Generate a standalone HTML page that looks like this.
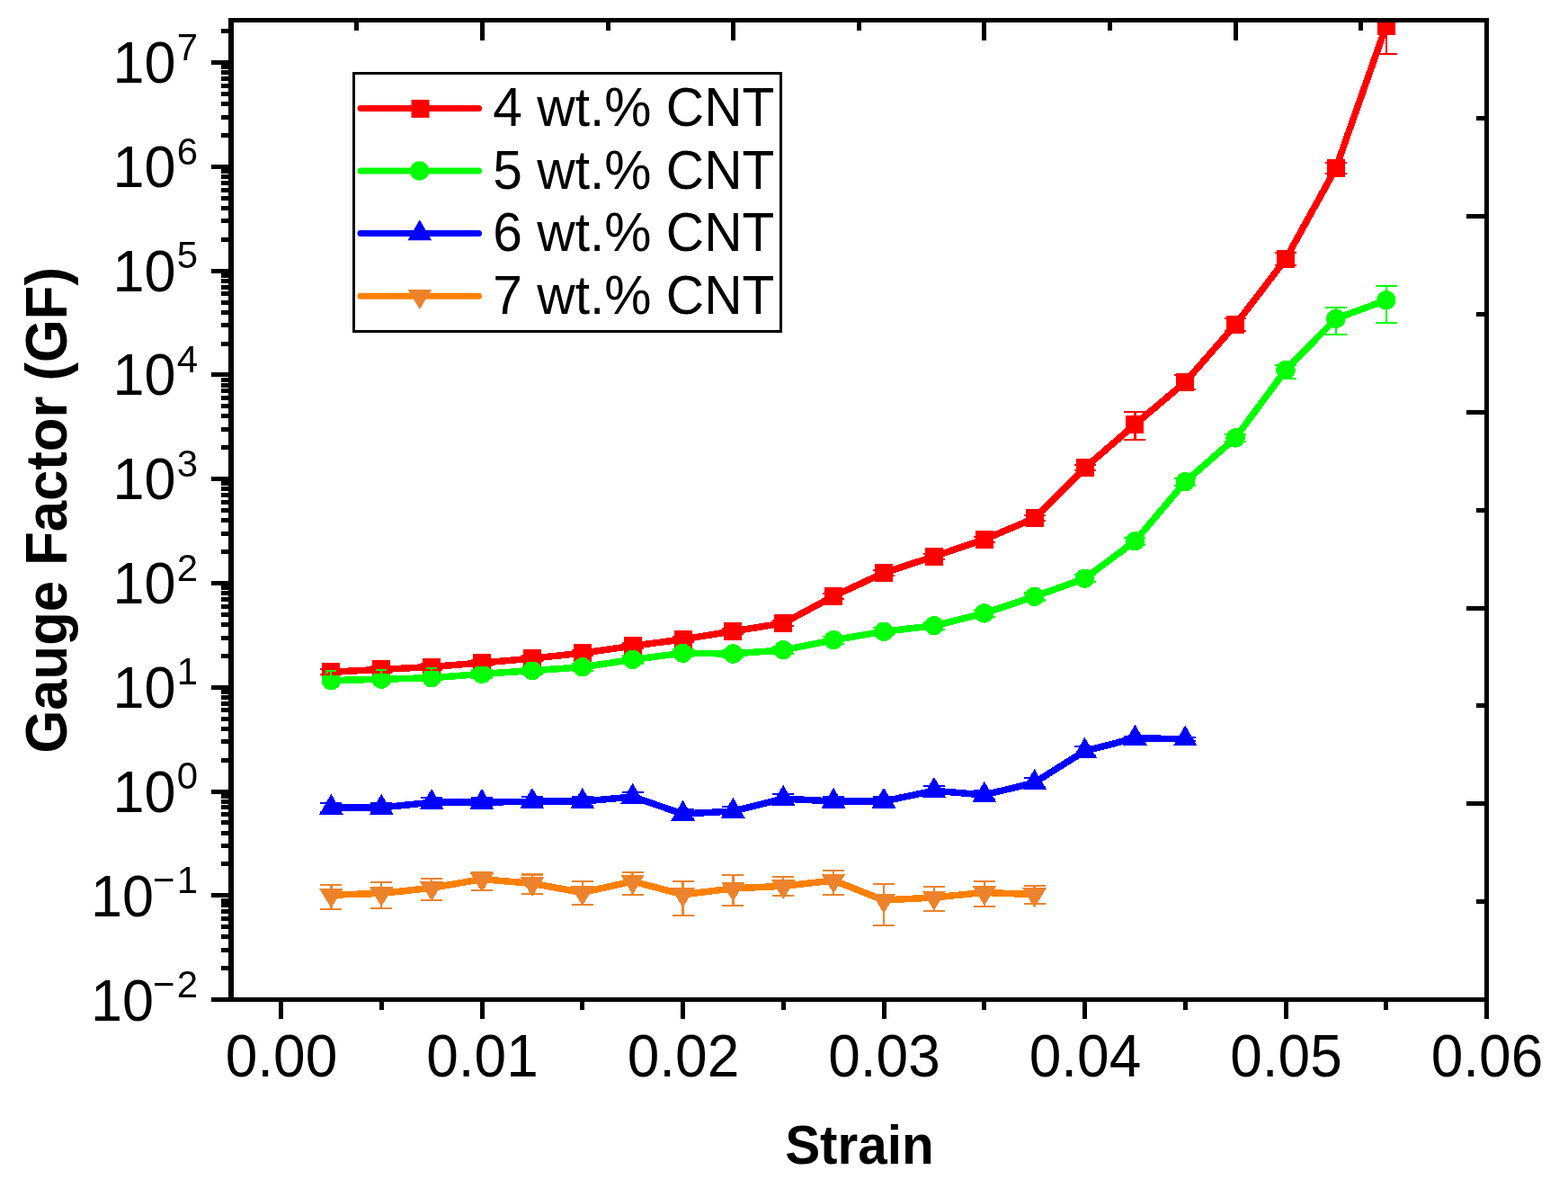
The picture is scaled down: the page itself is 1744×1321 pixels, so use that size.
<!DOCTYPE html><html><head><meta charset="utf-8"><title>Gauge Factor vs Strain</title>
<style>html,body{margin:0;padding:0;background:#fff;}svg{display:block;}text{font-family:"Liberation Sans",Arial,sans-serif;}</style></head><body>
<svg width="1744" height="1321" viewBox="0 0 1744 1321">
<rect width="1744" height="1321" fill="#fff"/>
<defs><clipPath id="pc"><rect x="254" y="20" width="1402" height="1094"/></clipPath></defs>
<g clip-path="url(#pc)" shape-rendering="crispEdges">
<rect x="358.4" y="737.2" width="20" height="20" fill="#ff0000"/>
<rect x="414.2" y="734.4" width="20" height="20" fill="#ff0000"/>
<rect x="470.1" y="731.5" width="20" height="20" fill="#ff0000"/>
<rect x="526.0" y="727.0" width="20" height="20" fill="#ff0000"/>
<rect x="581.9" y="722.2" width="20" height="20" fill="#ff0000"/>
<rect x="637.8" y="716.1" width="20" height="20" fill="#ff0000"/>
<rect x="693.6" y="708.2" width="20" height="20" fill="#ff0000"/>
<rect x="749.5" y="700.9" width="20" height="20" fill="#ff0000"/>
<rect x="805.4" y="691.9" width="20" height="20" fill="#ff0000"/>
<rect x="861.2" y="683.0" width="20" height="20" fill="#ff0000"/>
<rect x="917.1" y="653.0" width="20" height="20" fill="#ff0000"/>
<rect x="973.0" y="627.0" width="20" height="20" fill="#ff0000"/>
<rect x="1028.9" y="608.8" width="20" height="20" fill="#ff0000"/>
<rect x="1084.8" y="589.8" width="20" height="20" fill="#ff0000"/>
<rect x="1140.6" y="566.3" width="20" height="20" fill="#ff0000"/>
<rect x="1196.5" y="510.3" width="20" height="20" fill="#ff0000"/>
<rect x="1252.4" y="462.0" width="20" height="20" fill="#ff0000"/>
<rect x="1308.2" y="414.9" width="20" height="20" fill="#ff0000"/>
<rect x="1364.1" y="351.1" width="20" height="20" fill="#ff0000"/>
<rect x="1420.0" y="278.1" width="20" height="20" fill="#ff0000"/>
<rect x="1475.9" y="177.0" width="20" height="20" fill="#ff0000"/>
<rect x="1531.8" y="18.5" width="20" height="20" fill="#ff0000"/>
<polyline points="368.4,756.6 424.2,755.3 480.1,753.7 536.0,749.4 591.9,745.7 647.8,741.8 703.6,733.4 759.5,726.3 815.4,727.0 871.2,722.8 927.1,711.7 983.0,702.2 1038.9,695.8 1094.8,681.9 1150.6,663.4 1206.5,643.3 1262.4,601.8 1318.2,535.8 1374.1,486.9 1430.0,411.5 1485.9,354.3 1541.8,333.8" fill="none" stroke="#00ff00" stroke-width="7.5" stroke-linejoin="round" stroke-linecap="round"/>
<circle cx="368.4" cy="756.6" r="10.7" fill="#00ff00"/>
<circle cx="424.2" cy="755.3" r="10.7" fill="#00ff00"/>
<circle cx="480.1" cy="753.7" r="10.7" fill="#00ff00"/>
<circle cx="536.0" cy="749.4" r="10.7" fill="#00ff00"/>
<circle cx="591.9" cy="745.7" r="10.7" fill="#00ff00"/>
<circle cx="647.8" cy="741.8" r="10.7" fill="#00ff00"/>
<circle cx="703.6" cy="733.4" r="10.7" fill="#00ff00"/>
<circle cx="759.5" cy="726.3" r="10.7" fill="#00ff00"/>
<circle cx="815.4" cy="727.0" r="10.7" fill="#00ff00"/>
<circle cx="871.2" cy="722.8" r="10.7" fill="#00ff00"/>
<circle cx="927.1" cy="711.7" r="10.7" fill="#00ff00"/>
<circle cx="983.0" cy="702.2" r="10.7" fill="#00ff00"/>
<circle cx="1038.9" cy="695.8" r="10.7" fill="#00ff00"/>
<circle cx="1094.8" cy="681.9" r="10.7" fill="#00ff00"/>
<circle cx="1150.6" cy="663.4" r="10.7" fill="#00ff00"/>
<circle cx="1206.5" cy="643.3" r="10.7" fill="#00ff00"/>
<circle cx="1262.4" cy="601.8" r="10.7" fill="#00ff00"/>
<circle cx="1318.2" cy="535.8" r="10.7" fill="#00ff00"/>
<circle cx="1374.1" cy="486.9" r="10.7" fill="#00ff00"/>
<circle cx="1430.0" cy="411.5" r="10.7" fill="#00ff00"/>
<circle cx="1485.9" cy="354.3" r="10.7" fill="#00ff00"/>
<circle cx="1541.8" cy="333.8" r="10.7" fill="#00ff00"/>
<polyline points="368.4,747.2 424.2,744.4 480.1,741.5 536.0,737.0 591.9,732.2 647.8,726.1 703.6,718.2 759.5,710.9 815.4,701.9 871.2,693.0 927.1,663.0 983.0,637.0 1038.9,618.8 1094.8,599.8 1150.6,576.3 1206.5,520.3 1262.4,472.0 1318.2,424.9 1374.1,361.1 1430.0,288.1 1485.9,187.0 1541.8,28.5" fill="none" stroke="#ff0000" stroke-width="7.5" stroke-linejoin="round" stroke-linecap="round"/>
<line x1="368.4" y1="744.2" x2="368.4" y2="750.2" stroke="#ff0000" stroke-width="2.5"/><line x1="356.4" y1="744.2" x2="380.4" y2="744.2" stroke="#ff0000" stroke-width="2.2"/><line x1="356.4" y1="750.2" x2="380.4" y2="750.2" stroke="#ff0000" stroke-width="2.2"/>
<line x1="424.2" y1="741.4" x2="424.2" y2="747.4" stroke="#ff0000" stroke-width="2.5"/><line x1="412.2" y1="741.4" x2="436.2" y2="741.4" stroke="#ff0000" stroke-width="2.2"/><line x1="412.2" y1="747.4" x2="436.2" y2="747.4" stroke="#ff0000" stroke-width="2.2"/>
<line x1="480.1" y1="738.5" x2="480.1" y2="744.5" stroke="#ff0000" stroke-width="2.5"/><line x1="468.1" y1="738.5" x2="492.1" y2="738.5" stroke="#ff0000" stroke-width="2.2"/><line x1="468.1" y1="744.5" x2="492.1" y2="744.5" stroke="#ff0000" stroke-width="2.2"/>
<line x1="536.0" y1="734.0" x2="536.0" y2="740.0" stroke="#ff0000" stroke-width="2.5"/><line x1="524.0" y1="734.0" x2="548.0" y2="734.0" stroke="#ff0000" stroke-width="2.2"/><line x1="524.0" y1="740.0" x2="548.0" y2="740.0" stroke="#ff0000" stroke-width="2.2"/>
<line x1="591.9" y1="729.2" x2="591.9" y2="735.2" stroke="#ff0000" stroke-width="2.5"/><line x1="579.9" y1="729.2" x2="603.9" y2="729.2" stroke="#ff0000" stroke-width="2.2"/><line x1="579.9" y1="735.2" x2="603.9" y2="735.2" stroke="#ff0000" stroke-width="2.2"/>
<line x1="647.8" y1="723.1" x2="647.8" y2="729.1" stroke="#ff0000" stroke-width="2.5"/><line x1="635.8" y1="723.1" x2="659.8" y2="723.1" stroke="#ff0000" stroke-width="2.2"/><line x1="635.8" y1="729.1" x2="659.8" y2="729.1" stroke="#ff0000" stroke-width="2.2"/>
<line x1="703.6" y1="715.2" x2="703.6" y2="721.2" stroke="#ff0000" stroke-width="2.5"/><line x1="691.6" y1="715.2" x2="715.6" y2="715.2" stroke="#ff0000" stroke-width="2.2"/><line x1="691.6" y1="721.2" x2="715.6" y2="721.2" stroke="#ff0000" stroke-width="2.2"/>
<line x1="759.5" y1="707.9" x2="759.5" y2="713.9" stroke="#ff0000" stroke-width="2.5"/><line x1="747.5" y1="707.9" x2="771.5" y2="707.9" stroke="#ff0000" stroke-width="2.2"/><line x1="747.5" y1="713.9" x2="771.5" y2="713.9" stroke="#ff0000" stroke-width="2.2"/>
<line x1="815.4" y1="698.9" x2="815.4" y2="704.9" stroke="#ff0000" stroke-width="2.5"/><line x1="803.4" y1="698.9" x2="827.4" y2="698.9" stroke="#ff0000" stroke-width="2.2"/><line x1="803.4" y1="704.9" x2="827.4" y2="704.9" stroke="#ff0000" stroke-width="2.2"/>
<line x1="871.2" y1="690.0" x2="871.2" y2="696.0" stroke="#ff0000" stroke-width="2.5"/><line x1="859.2" y1="690.0" x2="883.2" y2="690.0" stroke="#ff0000" stroke-width="2.2"/><line x1="859.2" y1="696.0" x2="883.2" y2="696.0" stroke="#ff0000" stroke-width="2.2"/>
<line x1="927.1" y1="660.0" x2="927.1" y2="666.0" stroke="#ff0000" stroke-width="2.5"/><line x1="915.1" y1="660.0" x2="939.1" y2="660.0" stroke="#ff0000" stroke-width="2.2"/><line x1="915.1" y1="666.0" x2="939.1" y2="666.0" stroke="#ff0000" stroke-width="2.2"/>
<line x1="983.0" y1="634.0" x2="983.0" y2="640.0" stroke="#ff0000" stroke-width="2.5"/><line x1="971.0" y1="634.0" x2="995.0" y2="634.0" stroke="#ff0000" stroke-width="2.2"/><line x1="971.0" y1="640.0" x2="995.0" y2="640.0" stroke="#ff0000" stroke-width="2.2"/>
<line x1="1038.9" y1="615.8" x2="1038.9" y2="621.8" stroke="#ff0000" stroke-width="2.5"/><line x1="1026.9" y1="615.8" x2="1050.9" y2="615.8" stroke="#ff0000" stroke-width="2.2"/><line x1="1026.9" y1="621.8" x2="1050.9" y2="621.8" stroke="#ff0000" stroke-width="2.2"/>
<line x1="1094.8" y1="596.8" x2="1094.8" y2="602.8" stroke="#ff0000" stroke-width="2.5"/><line x1="1082.8" y1="596.8" x2="1106.8" y2="596.8" stroke="#ff0000" stroke-width="2.2"/><line x1="1082.8" y1="602.8" x2="1106.8" y2="602.8" stroke="#ff0000" stroke-width="2.2"/>
<line x1="1150.6" y1="573.3" x2="1150.6" y2="579.3" stroke="#ff0000" stroke-width="2.5"/><line x1="1138.6" y1="573.3" x2="1162.6" y2="573.3" stroke="#ff0000" stroke-width="2.2"/><line x1="1138.6" y1="579.3" x2="1162.6" y2="579.3" stroke="#ff0000" stroke-width="2.2"/>
<line x1="1206.5" y1="517.3" x2="1206.5" y2="523.3" stroke="#ff0000" stroke-width="2.5"/><line x1="1194.5" y1="517.3" x2="1218.5" y2="517.3" stroke="#ff0000" stroke-width="2.2"/><line x1="1194.5" y1="523.3" x2="1218.5" y2="523.3" stroke="#ff0000" stroke-width="2.2"/>
<line x1="1262.4" y1="458.1" x2="1262.4" y2="488.8" stroke="#ff0000" stroke-width="2.5"/><line x1="1250.4" y1="458.1" x2="1274.4" y2="458.1" stroke="#ff0000" stroke-width="2.2"/><line x1="1250.4" y1="488.8" x2="1274.4" y2="488.8" stroke="#ff0000" stroke-width="2.2"/>
<line x1="1318.2" y1="416.9" x2="1318.2" y2="432.9" stroke="#ff0000" stroke-width="2.5"/><line x1="1306.2" y1="416.9" x2="1330.2" y2="416.9" stroke="#ff0000" stroke-width="2.2"/><line x1="1306.2" y1="432.9" x2="1330.2" y2="432.9" stroke="#ff0000" stroke-width="2.2"/>
<line x1="1374.1" y1="354.1" x2="1374.1" y2="368.1" stroke="#ff0000" stroke-width="2.5"/><line x1="1362.1" y1="354.1" x2="1386.1" y2="354.1" stroke="#ff0000" stroke-width="2.2"/><line x1="1362.1" y1="368.1" x2="1386.1" y2="368.1" stroke="#ff0000" stroke-width="2.2"/>
<line x1="1430.0" y1="281.1" x2="1430.0" y2="295.1" stroke="#ff0000" stroke-width="2.5"/><line x1="1418.0" y1="281.1" x2="1442.0" y2="281.1" stroke="#ff0000" stroke-width="2.2"/><line x1="1418.0" y1="295.1" x2="1442.0" y2="295.1" stroke="#ff0000" stroke-width="2.2"/>
<line x1="1485.9" y1="181.0" x2="1485.9" y2="193.0" stroke="#ff0000" stroke-width="2.5"/><line x1="1473.9" y1="181.0" x2="1497.9" y2="181.0" stroke="#ff0000" stroke-width="2.2"/><line x1="1473.9" y1="193.0" x2="1497.9" y2="193.0" stroke="#ff0000" stroke-width="2.2"/>
<line x1="1541.8" y1="0.0" x2="1541.8" y2="59.7" stroke="#ff0000" stroke-width="2.5"/><line x1="1529.8" y1="0.0" x2="1553.8" y2="0.0" stroke="#ff0000" stroke-width="2.2"/><line x1="1529.8" y1="59.7" x2="1553.8" y2="59.7" stroke="#ff0000" stroke-width="2.2"/>
<line x1="368.4" y1="746.1" x2="368.4" y2="759.6" stroke="#00ff00" stroke-width="2.0"/><line x1="362.4" y1="746.1" x2="374.4" y2="746.1" stroke="#00ff00" stroke-width="1.6"/><line x1="362.4" y1="759.6" x2="374.4" y2="759.6" stroke="#00ff00" stroke-width="1.6"/>
<line x1="424.2" y1="744.8" x2="424.2" y2="758.3" stroke="#00ff00" stroke-width="2.0"/><line x1="418.2" y1="744.8" x2="430.2" y2="744.8" stroke="#00ff00" stroke-width="1.6"/><line x1="418.2" y1="758.3" x2="430.2" y2="758.3" stroke="#00ff00" stroke-width="1.6"/>
<line x1="480.1" y1="743.2" x2="480.1" y2="756.7" stroke="#00ff00" stroke-width="2.0"/><line x1="474.1" y1="743.2" x2="486.1" y2="743.2" stroke="#00ff00" stroke-width="1.6"/><line x1="474.1" y1="756.7" x2="486.1" y2="756.7" stroke="#00ff00" stroke-width="1.6"/>
<polyline points="368.4,898.0 424.2,898.0 480.1,892.2 536.0,892.2 591.9,891.2 647.8,891.2 703.6,886.0 759.5,905.0 815.4,902.0 871.2,888.1 927.1,891.0 983.0,891.0 1038.9,879.2 1094.8,884.0 1150.6,870.2 1206.5,835.1 1262.4,820.8 1318.2,821.7" fill="none" stroke="#0000ff" stroke-width="7.5" stroke-linejoin="round" stroke-linecap="round"/>
<polygon points="368.4,882.7 381.7,905.7 355.1,905.7" fill="#0000ff"/>
<polygon points="424.2,882.7 437.6,905.7 410.9,905.7" fill="#0000ff"/>
<polygon points="480.1,876.9 493.4,899.9 466.8,899.9" fill="#0000ff"/>
<polygon points="536.0,876.9 549.3,899.9 522.7,899.9" fill="#0000ff"/>
<polygon points="591.9,875.9 605.2,898.9 578.6,898.9" fill="#0000ff"/>
<polygon points="647.8,875.9 661.0,898.9 634.5,898.9" fill="#0000ff"/>
<polygon points="703.6,870.7 716.9,893.7 690.3,893.7" fill="#0000ff"/>
<polygon points="759.5,889.7 772.8,912.7 746.2,912.7" fill="#0000ff"/>
<polygon points="815.4,886.7 828.7,909.7 802.1,909.7" fill="#0000ff"/>
<polygon points="871.2,872.8 884.5,895.8 858.0,895.8" fill="#0000ff"/>
<polygon points="927.1,875.7 940.4,898.7 913.8,898.7" fill="#0000ff"/>
<polygon points="983.0,875.7 996.3,898.7 969.7,898.7" fill="#0000ff"/>
<polygon points="1038.9,863.9 1052.2,886.9 1025.6,886.9" fill="#0000ff"/>
<polygon points="1094.8,868.7 1108.0,891.7 1081.5,891.7" fill="#0000ff"/>
<polygon points="1150.6,854.9 1163.9,877.9 1137.3,877.9" fill="#0000ff"/>
<polygon points="1206.5,819.8 1219.8,842.8 1193.2,842.8" fill="#0000ff"/>
<polygon points="1262.4,805.5 1275.7,828.5 1249.1,828.5" fill="#0000ff"/>
<polygon points="1318.2,806.4 1331.5,829.4 1305.0,829.4" fill="#0000ff"/>
<polyline points="368.4,995.2 424.2,993.4 480.1,987.3 536.0,977.6 591.9,982.4 647.8,992.5 703.6,980.0 759.5,994.7 815.4,987.9 871.2,985.3 927.1,979.0 983.0,1001.0 1038.9,998.0 1094.8,992.4 1150.6,994.7" fill="none" stroke="#ff8000" stroke-width="7.5" stroke-linejoin="round" stroke-linecap="round"/>
<polygon points="355.1,987.9 381.7,987.9 368.4,1009.9" fill="#ec832c"/>
<polygon points="410.9,986.1 437.6,986.1 424.2,1008.1" fill="#ec832c"/>
<polygon points="466.8,980.0 493.4,980.0 480.1,1002.0" fill="#ec832c"/>
<polygon points="522.7,970.3 549.3,970.3 536.0,992.3" fill="#ec832c"/>
<polygon points="578.6,975.1 605.2,975.1 591.9,997.1" fill="#ec832c"/>
<polygon points="634.5,985.2 661.0,985.2 647.8,1007.2" fill="#ec832c"/>
<polygon points="690.3,972.7 716.9,972.7 703.6,994.7" fill="#ec832c"/>
<polygon points="746.2,987.4 772.8,987.4 759.5,1009.4" fill="#ec832c"/>
<polygon points="802.1,980.6 828.7,980.6 815.4,1002.6" fill="#ec832c"/>
<polygon points="858.0,978.0 884.5,978.0 871.2,1000.0" fill="#ec832c"/>
<polygon points="913.8,971.7 940.4,971.7 927.1,993.7" fill="#ec832c"/>
<polygon points="969.7,993.7 996.3,993.7 983.0,1015.7" fill="#ec832c"/>
<polygon points="1025.6,990.7 1052.2,990.7 1038.9,1012.7" fill="#ec832c"/>
<polygon points="1081.5,985.1 1108.0,985.1 1094.8,1007.1" fill="#ec832c"/>
<polygon points="1137.3,987.4 1163.9,987.4 1150.6,1009.4" fill="#ec832c"/>
<line x1="536.0" y1="745.4" x2="536.0" y2="753.4" stroke="#00ff00" stroke-width="2.5"/><line x1="524.0" y1="745.4" x2="548.0" y2="745.4" stroke="#00ff00" stroke-width="2.2"/><line x1="524.0" y1="753.4" x2="548.0" y2="753.4" stroke="#00ff00" stroke-width="2.2"/>
<line x1="591.9" y1="741.7" x2="591.9" y2="749.7" stroke="#00ff00" stroke-width="2.5"/><line x1="579.9" y1="741.7" x2="603.9" y2="741.7" stroke="#00ff00" stroke-width="2.2"/><line x1="579.9" y1="749.7" x2="603.9" y2="749.7" stroke="#00ff00" stroke-width="2.2"/>
<line x1="647.8" y1="737.8" x2="647.8" y2="745.8" stroke="#00ff00" stroke-width="2.5"/><line x1="635.8" y1="737.8" x2="659.8" y2="737.8" stroke="#00ff00" stroke-width="2.2"/><line x1="635.8" y1="745.8" x2="659.8" y2="745.8" stroke="#00ff00" stroke-width="2.2"/>
<line x1="703.6" y1="729.4" x2="703.6" y2="737.4" stroke="#00ff00" stroke-width="2.5"/><line x1="691.6" y1="729.4" x2="715.6" y2="729.4" stroke="#00ff00" stroke-width="2.2"/><line x1="691.6" y1="737.4" x2="715.6" y2="737.4" stroke="#00ff00" stroke-width="2.2"/>
<line x1="759.5" y1="722.3" x2="759.5" y2="730.3" stroke="#00ff00" stroke-width="2.5"/><line x1="747.5" y1="722.3" x2="771.5" y2="722.3" stroke="#00ff00" stroke-width="2.2"/><line x1="747.5" y1="730.3" x2="771.5" y2="730.3" stroke="#00ff00" stroke-width="2.2"/>
<line x1="815.4" y1="723.0" x2="815.4" y2="731.0" stroke="#00ff00" stroke-width="2.5"/><line x1="803.4" y1="723.0" x2="827.4" y2="723.0" stroke="#00ff00" stroke-width="2.2"/><line x1="803.4" y1="731.0" x2="827.4" y2="731.0" stroke="#00ff00" stroke-width="2.2"/>
<line x1="871.2" y1="718.8" x2="871.2" y2="726.8" stroke="#00ff00" stroke-width="2.5"/><line x1="859.2" y1="718.8" x2="883.2" y2="718.8" stroke="#00ff00" stroke-width="2.2"/><line x1="859.2" y1="726.8" x2="883.2" y2="726.8" stroke="#00ff00" stroke-width="2.2"/>
<line x1="927.1" y1="707.7" x2="927.1" y2="715.7" stroke="#00ff00" stroke-width="2.5"/><line x1="915.1" y1="707.7" x2="939.1" y2="707.7" stroke="#00ff00" stroke-width="2.2"/><line x1="915.1" y1="715.7" x2="939.1" y2="715.7" stroke="#00ff00" stroke-width="2.2"/>
<line x1="983.0" y1="698.2" x2="983.0" y2="706.2" stroke="#00ff00" stroke-width="2.5"/><line x1="971.0" y1="698.2" x2="995.0" y2="698.2" stroke="#00ff00" stroke-width="2.2"/><line x1="971.0" y1="706.2" x2="995.0" y2="706.2" stroke="#00ff00" stroke-width="2.2"/>
<line x1="1038.9" y1="691.8" x2="1038.9" y2="699.8" stroke="#00ff00" stroke-width="2.5"/><line x1="1026.9" y1="691.8" x2="1050.9" y2="691.8" stroke="#00ff00" stroke-width="2.2"/><line x1="1026.9" y1="699.8" x2="1050.9" y2="699.8" stroke="#00ff00" stroke-width="2.2"/>
<line x1="1094.8" y1="677.9" x2="1094.8" y2="685.9" stroke="#00ff00" stroke-width="2.5"/><line x1="1082.8" y1="677.9" x2="1106.8" y2="677.9" stroke="#00ff00" stroke-width="2.2"/><line x1="1082.8" y1="685.9" x2="1106.8" y2="685.9" stroke="#00ff00" stroke-width="2.2"/>
<line x1="1150.6" y1="659.4" x2="1150.6" y2="667.4" stroke="#00ff00" stroke-width="2.5"/><line x1="1138.6" y1="659.4" x2="1162.6" y2="659.4" stroke="#00ff00" stroke-width="2.2"/><line x1="1138.6" y1="667.4" x2="1162.6" y2="667.4" stroke="#00ff00" stroke-width="2.2"/>
<line x1="1206.5" y1="639.3" x2="1206.5" y2="647.3" stroke="#00ff00" stroke-width="2.5"/><line x1="1194.5" y1="639.3" x2="1218.5" y2="639.3" stroke="#00ff00" stroke-width="2.2"/><line x1="1194.5" y1="647.3" x2="1218.5" y2="647.3" stroke="#00ff00" stroke-width="2.2"/>
<line x1="1262.4" y1="597.8" x2="1262.4" y2="605.8" stroke="#00ff00" stroke-width="2.5"/><line x1="1250.4" y1="597.8" x2="1274.4" y2="597.8" stroke="#00ff00" stroke-width="2.2"/><line x1="1250.4" y1="605.8" x2="1274.4" y2="605.8" stroke="#00ff00" stroke-width="2.2"/>
<line x1="1318.2" y1="531.8" x2="1318.2" y2="539.8" stroke="#00ff00" stroke-width="2.5"/><line x1="1306.2" y1="531.8" x2="1330.2" y2="531.8" stroke="#00ff00" stroke-width="2.2"/><line x1="1306.2" y1="539.8" x2="1330.2" y2="539.8" stroke="#00ff00" stroke-width="2.2"/>
<line x1="1374.1" y1="482.9" x2="1374.1" y2="490.9" stroke="#00ff00" stroke-width="2.5"/><line x1="1362.1" y1="482.9" x2="1386.1" y2="482.9" stroke="#00ff00" stroke-width="2.2"/><line x1="1362.1" y1="490.9" x2="1386.1" y2="490.9" stroke="#00ff00" stroke-width="2.2"/>
<line x1="1430.0" y1="405.8" x2="1430.0" y2="421.0" stroke="#00ff00" stroke-width="2.5"/><line x1="1418.0" y1="405.8" x2="1442.0" y2="405.8" stroke="#00ff00" stroke-width="2.2"/><line x1="1418.0" y1="421.0" x2="1442.0" y2="421.0" stroke="#00ff00" stroke-width="2.2"/>
<line x1="1485.9" y1="342.0" x2="1485.9" y2="372.1" stroke="#00ff00" stroke-width="2.5"/><line x1="1473.9" y1="342.0" x2="1497.9" y2="342.0" stroke="#00ff00" stroke-width="2.2"/><line x1="1473.9" y1="372.1" x2="1497.9" y2="372.1" stroke="#00ff00" stroke-width="2.2"/>
<line x1="1541.8" y1="317.9" x2="1541.8" y2="359.0" stroke="#00ff00" stroke-width="2.5"/><line x1="1529.8" y1="317.9" x2="1553.8" y2="317.9" stroke="#00ff00" stroke-width="2.2"/><line x1="1529.8" y1="359.0" x2="1553.8" y2="359.0" stroke="#00ff00" stroke-width="2.2"/>
<line x1="368.4" y1="893.0" x2="368.4" y2="903.0" stroke="#0000ff" stroke-width="2.5"/><line x1="356.4" y1="893.0" x2="380.4" y2="893.0" stroke="#0000ff" stroke-width="2.2"/><line x1="356.4" y1="903.0" x2="380.4" y2="903.0" stroke="#0000ff" stroke-width="2.2"/>
<line x1="424.2" y1="893.0" x2="424.2" y2="903.0" stroke="#0000ff" stroke-width="2.5"/><line x1="412.2" y1="893.0" x2="436.2" y2="893.0" stroke="#0000ff" stroke-width="2.2"/><line x1="412.2" y1="903.0" x2="436.2" y2="903.0" stroke="#0000ff" stroke-width="2.2"/>
<line x1="480.1" y1="887.2" x2="480.1" y2="897.2" stroke="#0000ff" stroke-width="2.5"/><line x1="468.1" y1="887.2" x2="492.1" y2="887.2" stroke="#0000ff" stroke-width="2.2"/><line x1="468.1" y1="897.2" x2="492.1" y2="897.2" stroke="#0000ff" stroke-width="2.2"/>
<line x1="536.0" y1="887.2" x2="536.0" y2="897.2" stroke="#0000ff" stroke-width="2.5"/><line x1="524.0" y1="887.2" x2="548.0" y2="887.2" stroke="#0000ff" stroke-width="2.2"/><line x1="524.0" y1="897.2" x2="548.0" y2="897.2" stroke="#0000ff" stroke-width="2.2"/>
<line x1="591.9" y1="886.2" x2="591.9" y2="896.2" stroke="#0000ff" stroke-width="2.5"/><line x1="579.9" y1="886.2" x2="603.9" y2="886.2" stroke="#0000ff" stroke-width="2.2"/><line x1="579.9" y1="896.2" x2="603.9" y2="896.2" stroke="#0000ff" stroke-width="2.2"/>
<line x1="647.8" y1="886.2" x2="647.8" y2="896.2" stroke="#0000ff" stroke-width="2.5"/><line x1="635.8" y1="886.2" x2="659.8" y2="886.2" stroke="#0000ff" stroke-width="2.2"/><line x1="635.8" y1="896.2" x2="659.8" y2="896.2" stroke="#0000ff" stroke-width="2.2"/>
<line x1="703.6" y1="881.0" x2="703.6" y2="891.0" stroke="#0000ff" stroke-width="2.5"/><line x1="691.6" y1="881.0" x2="715.6" y2="881.0" stroke="#0000ff" stroke-width="2.2"/><line x1="691.6" y1="891.0" x2="715.6" y2="891.0" stroke="#0000ff" stroke-width="2.2"/>
<line x1="759.5" y1="900.0" x2="759.5" y2="910.0" stroke="#0000ff" stroke-width="2.5"/><line x1="747.5" y1="900.0" x2="771.5" y2="900.0" stroke="#0000ff" stroke-width="2.2"/><line x1="747.5" y1="910.0" x2="771.5" y2="910.0" stroke="#0000ff" stroke-width="2.2"/>
<line x1="815.4" y1="897.0" x2="815.4" y2="907.0" stroke="#0000ff" stroke-width="2.5"/><line x1="803.4" y1="897.0" x2="827.4" y2="897.0" stroke="#0000ff" stroke-width="2.2"/><line x1="803.4" y1="907.0" x2="827.4" y2="907.0" stroke="#0000ff" stroke-width="2.2"/>
<line x1="871.2" y1="883.1" x2="871.2" y2="893.1" stroke="#0000ff" stroke-width="2.5"/><line x1="859.2" y1="883.1" x2="883.2" y2="883.1" stroke="#0000ff" stroke-width="2.2"/><line x1="859.2" y1="893.1" x2="883.2" y2="893.1" stroke="#0000ff" stroke-width="2.2"/>
<line x1="927.1" y1="886.0" x2="927.1" y2="896.0" stroke="#0000ff" stroke-width="2.5"/><line x1="915.1" y1="886.0" x2="939.1" y2="886.0" stroke="#0000ff" stroke-width="2.2"/><line x1="915.1" y1="896.0" x2="939.1" y2="896.0" stroke="#0000ff" stroke-width="2.2"/>
<line x1="983.0" y1="886.0" x2="983.0" y2="896.0" stroke="#0000ff" stroke-width="2.5"/><line x1="971.0" y1="886.0" x2="995.0" y2="886.0" stroke="#0000ff" stroke-width="2.2"/><line x1="971.0" y1="896.0" x2="995.0" y2="896.0" stroke="#0000ff" stroke-width="2.2"/>
<line x1="1038.9" y1="874.2" x2="1038.9" y2="884.2" stroke="#0000ff" stroke-width="2.5"/><line x1="1026.9" y1="874.2" x2="1050.9" y2="874.2" stroke="#0000ff" stroke-width="2.2"/><line x1="1026.9" y1="884.2" x2="1050.9" y2="884.2" stroke="#0000ff" stroke-width="2.2"/>
<line x1="1094.8" y1="879.0" x2="1094.8" y2="889.0" stroke="#0000ff" stroke-width="2.5"/><line x1="1082.8" y1="879.0" x2="1106.8" y2="879.0" stroke="#0000ff" stroke-width="2.2"/><line x1="1082.8" y1="889.0" x2="1106.8" y2="889.0" stroke="#0000ff" stroke-width="2.2"/>
<line x1="1150.6" y1="865.2" x2="1150.6" y2="875.2" stroke="#0000ff" stroke-width="2.5"/><line x1="1138.6" y1="865.2" x2="1162.6" y2="865.2" stroke="#0000ff" stroke-width="2.2"/><line x1="1138.6" y1="875.2" x2="1162.6" y2="875.2" stroke="#0000ff" stroke-width="2.2"/>
<line x1="1206.5" y1="830.1" x2="1206.5" y2="840.1" stroke="#0000ff" stroke-width="2.5"/><line x1="1194.5" y1="830.1" x2="1218.5" y2="830.1" stroke="#0000ff" stroke-width="2.2"/><line x1="1194.5" y1="840.1" x2="1218.5" y2="840.1" stroke="#0000ff" stroke-width="2.2"/>
<line x1="1262.4" y1="818.8" x2="1262.4" y2="822.8" stroke="#0000ff" stroke-width="2.5"/><line x1="1250.4" y1="818.8" x2="1274.4" y2="818.8" stroke="#0000ff" stroke-width="2.2"/><line x1="1250.4" y1="822.8" x2="1274.4" y2="822.8" stroke="#0000ff" stroke-width="2.2"/>
<line x1="1318.2" y1="819.7" x2="1318.2" y2="823.7" stroke="#0000ff" stroke-width="2.5"/><line x1="1306.2" y1="819.7" x2="1330.2" y2="819.7" stroke="#0000ff" stroke-width="2.2"/><line x1="1306.2" y1="823.7" x2="1330.2" y2="823.7" stroke="#0000ff" stroke-width="2.2"/>
<line x1="368.4" y1="984.0" x2="368.4" y2="1011.0" stroke="#ec832c" stroke-width="2.5"/><line x1="356.4" y1="984.0" x2="380.4" y2="984.0" stroke="#ec832c" stroke-width="2.2"/><line x1="356.4" y1="1011.0" x2="380.4" y2="1011.0" stroke="#ec832c" stroke-width="2.2"/>
<line x1="424.2" y1="981.0" x2="424.2" y2="1010.0" stroke="#ec832c" stroke-width="2.5"/><line x1="412.2" y1="981.0" x2="436.2" y2="981.0" stroke="#ec832c" stroke-width="2.2"/><line x1="412.2" y1="1010.0" x2="436.2" y2="1010.0" stroke="#ec832c" stroke-width="2.2"/>
<line x1="480.1" y1="977.0" x2="480.1" y2="1001.0" stroke="#ec832c" stroke-width="2.5"/><line x1="468.1" y1="977.0" x2="492.1" y2="977.0" stroke="#ec832c" stroke-width="2.2"/><line x1="468.1" y1="1001.0" x2="492.1" y2="1001.0" stroke="#ec832c" stroke-width="2.2"/>
<line x1="536.0" y1="970.5" x2="536.0" y2="989.9" stroke="#ec832c" stroke-width="2.5"/><line x1="524.0" y1="970.5" x2="548.0" y2="970.5" stroke="#ec832c" stroke-width="2.2"/><line x1="524.0" y1="989.9" x2="548.0" y2="989.9" stroke="#ec832c" stroke-width="2.2"/>
<line x1="591.9" y1="972.5" x2="591.9" y2="993.7" stroke="#ec832c" stroke-width="2.5"/><line x1="579.9" y1="972.5" x2="603.9" y2="972.5" stroke="#ec832c" stroke-width="2.2"/><line x1="579.9" y1="993.7" x2="603.9" y2="993.7" stroke="#ec832c" stroke-width="2.2"/>
<line x1="647.8" y1="979.7" x2="647.8" y2="1005.8" stroke="#ec832c" stroke-width="2.5"/><line x1="635.8" y1="979.7" x2="659.8" y2="979.7" stroke="#ec832c" stroke-width="2.2"/><line x1="635.8" y1="1005.8" x2="659.8" y2="1005.8" stroke="#ec832c" stroke-width="2.2"/>
<line x1="703.6" y1="969.6" x2="703.6" y2="994.9" stroke="#ec832c" stroke-width="2.5"/><line x1="691.6" y1="969.6" x2="715.6" y2="969.6" stroke="#ec832c" stroke-width="2.2"/><line x1="691.6" y1="994.9" x2="715.6" y2="994.9" stroke="#ec832c" stroke-width="2.2"/>
<line x1="759.5" y1="979.6" x2="759.5" y2="1018.0" stroke="#ec832c" stroke-width="2.5"/><line x1="747.5" y1="979.6" x2="771.5" y2="979.6" stroke="#ec832c" stroke-width="2.2"/><line x1="747.5" y1="1018.0" x2="771.5" y2="1018.0" stroke="#ec832c" stroke-width="2.2"/>
<line x1="815.4" y1="973.3" x2="815.4" y2="1006.9" stroke="#ec832c" stroke-width="2.5"/><line x1="803.4" y1="973.3" x2="827.4" y2="973.3" stroke="#ec832c" stroke-width="2.2"/><line x1="803.4" y1="1006.9" x2="827.4" y2="1006.9" stroke="#ec832c" stroke-width="2.2"/>
<line x1="871.2" y1="974.8" x2="871.2" y2="996.0" stroke="#ec832c" stroke-width="2.5"/><line x1="859.2" y1="974.8" x2="883.2" y2="974.8" stroke="#ec832c" stroke-width="2.2"/><line x1="859.2" y1="996.0" x2="883.2" y2="996.0" stroke="#ec832c" stroke-width="2.2"/>
<line x1="927.1" y1="967.8" x2="927.1" y2="994.8" stroke="#ec832c" stroke-width="2.5"/><line x1="915.1" y1="967.8" x2="939.1" y2="967.8" stroke="#ec832c" stroke-width="2.2"/><line x1="915.1" y1="994.8" x2="939.1" y2="994.8" stroke="#ec832c" stroke-width="2.2"/>
<line x1="983.0" y1="982.9" x2="983.0" y2="1028.8" stroke="#ec832c" stroke-width="2.5"/><line x1="971.0" y1="982.9" x2="995.0" y2="982.9" stroke="#ec832c" stroke-width="2.2"/><line x1="971.0" y1="1028.8" x2="995.0" y2="1028.8" stroke="#ec832c" stroke-width="2.2"/>
<line x1="1038.9" y1="985.9" x2="1038.9" y2="1012.9" stroke="#ec832c" stroke-width="2.5"/><line x1="1026.9" y1="985.9" x2="1050.9" y2="985.9" stroke="#ec832c" stroke-width="2.2"/><line x1="1026.9" y1="1012.9" x2="1050.9" y2="1012.9" stroke="#ec832c" stroke-width="2.2"/>
<line x1="1094.8" y1="979.9" x2="1094.8" y2="1007.6" stroke="#ec832c" stroke-width="2.5"/><line x1="1082.8" y1="979.9" x2="1106.8" y2="979.9" stroke="#ec832c" stroke-width="2.2"/><line x1="1082.8" y1="1007.6" x2="1106.8" y2="1007.6" stroke="#ec832c" stroke-width="2.2"/>
<line x1="1150.6" y1="984.9" x2="1150.6" y2="1005.1" stroke="#ec832c" stroke-width="2.5"/><line x1="1138.6" y1="984.9" x2="1162.6" y2="984.9" stroke="#ec832c" stroke-width="2.2"/><line x1="1138.6" y1="1005.1" x2="1162.6" y2="1005.1" stroke="#ec832c" stroke-width="2.2"/>
</g>
<g shape-rendering="crispEdges">
<rect x="254" y="20" width="6" height="1094" fill="#000"/>
<rect x="254" y="20" width="1402" height="5" fill="#000"/>
<rect x="1651" y="20" width="5" height="1094" fill="#000"/>
<rect x="235" y="1109" width="1421" height="5" fill="#000"/>
<rect x="235" y="1109.0" width="20" height="5" fill="#000"/>
<rect x="246" y="1074.1" width="9" height="5" fill="#000"/>
<rect x="246" y="1053.8" width="9" height="5" fill="#000"/>
<rect x="246" y="1039.3" width="9" height="5" fill="#000"/>
<rect x="246" y="1028.1" width="9" height="5" fill="#000"/>
<rect x="246" y="1018.9" width="9" height="5" fill="#000"/>
<rect x="246" y="1011.2" width="9" height="5" fill="#000"/>
<rect x="246" y="1004.4" width="9" height="5" fill="#000"/>
<rect x="246" y="998.5" width="9" height="5" fill="#000"/>
<rect x="235" y="993.2" width="20" height="5" fill="#000"/>
<rect x="246" y="958.4" width="9" height="5" fill="#000"/>
<rect x="246" y="938.0" width="9" height="5" fill="#000"/>
<rect x="246" y="923.5" width="9" height="5" fill="#000"/>
<rect x="246" y="912.3" width="9" height="5" fill="#000"/>
<rect x="246" y="903.1" width="9" height="5" fill="#000"/>
<rect x="246" y="895.4" width="9" height="5" fill="#000"/>
<rect x="246" y="888.7" width="9" height="5" fill="#000"/>
<rect x="246" y="882.8" width="9" height="5" fill="#000"/>
<rect x="235" y="877.5" width="20" height="5" fill="#000"/>
<rect x="246" y="842.6" width="9" height="5" fill="#000"/>
<rect x="246" y="822.2" width="9" height="5" fill="#000"/>
<rect x="246" y="807.8" width="9" height="5" fill="#000"/>
<rect x="246" y="796.5" width="9" height="5" fill="#000"/>
<rect x="246" y="787.4" width="9" height="5" fill="#000"/>
<rect x="246" y="779.6" width="9" height="5" fill="#000"/>
<rect x="246" y="772.9" width="9" height="5" fill="#000"/>
<rect x="246" y="767.0" width="9" height="5" fill="#000"/>
<rect x="235" y="761.7" width="20" height="5" fill="#000"/>
<rect x="246" y="726.8" width="9" height="5" fill="#000"/>
<rect x="246" y="706.5" width="9" height="5" fill="#000"/>
<rect x="246" y="692.0" width="9" height="5" fill="#000"/>
<rect x="246" y="680.8" width="9" height="5" fill="#000"/>
<rect x="246" y="671.6" width="9" height="5" fill="#000"/>
<rect x="246" y="663.9" width="9" height="5" fill="#000"/>
<rect x="246" y="657.1" width="9" height="5" fill="#000"/>
<rect x="246" y="651.2" width="9" height="5" fill="#000"/>
<rect x="235" y="645.9" width="20" height="5" fill="#000"/>
<rect x="246" y="611.1" width="9" height="5" fill="#000"/>
<rect x="246" y="590.7" width="9" height="5" fill="#000"/>
<rect x="246" y="576.2" width="9" height="5" fill="#000"/>
<rect x="246" y="565.0" width="9" height="5" fill="#000"/>
<rect x="246" y="555.8" width="9" height="5" fill="#000"/>
<rect x="246" y="548.1" width="9" height="5" fill="#000"/>
<rect x="246" y="541.4" width="9" height="5" fill="#000"/>
<rect x="246" y="535.4" width="9" height="5" fill="#000"/>
<rect x="235" y="530.1" width="20" height="5" fill="#000"/>
<rect x="246" y="495.3" width="9" height="5" fill="#000"/>
<rect x="246" y="474.9" width="9" height="5" fill="#000"/>
<rect x="246" y="460.4" width="9" height="5" fill="#000"/>
<rect x="246" y="449.2" width="9" height="5" fill="#000"/>
<rect x="246" y="440.1" width="9" height="5" fill="#000"/>
<rect x="246" y="432.3" width="9" height="5" fill="#000"/>
<rect x="246" y="425.6" width="9" height="5" fill="#000"/>
<rect x="246" y="419.7" width="9" height="5" fill="#000"/>
<rect x="235" y="414.4" width="20" height="5" fill="#000"/>
<rect x="246" y="379.5" width="9" height="5" fill="#000"/>
<rect x="246" y="359.1" width="9" height="5" fill="#000"/>
<rect x="246" y="344.7" width="9" height="5" fill="#000"/>
<rect x="246" y="333.5" width="9" height="5" fill="#000"/>
<rect x="246" y="324.3" width="9" height="5" fill="#000"/>
<rect x="246" y="316.5" width="9" height="5" fill="#000"/>
<rect x="246" y="309.8" width="9" height="5" fill="#000"/>
<rect x="246" y="303.9" width="9" height="5" fill="#000"/>
<rect x="235" y="298.6" width="20" height="5" fill="#000"/>
<rect x="246" y="263.8" width="9" height="5" fill="#000"/>
<rect x="246" y="243.4" width="9" height="5" fill="#000"/>
<rect x="246" y="228.9" width="9" height="5" fill="#000"/>
<rect x="246" y="217.7" width="9" height="5" fill="#000"/>
<rect x="246" y="208.5" width="9" height="5" fill="#000"/>
<rect x="246" y="200.8" width="9" height="5" fill="#000"/>
<rect x="246" y="194.1" width="9" height="5" fill="#000"/>
<rect x="246" y="188.1" width="9" height="5" fill="#000"/>
<rect x="235" y="182.8" width="20" height="5" fill="#000"/>
<rect x="246" y="148.0" width="9" height="5" fill="#000"/>
<rect x="246" y="127.6" width="9" height="5" fill="#000"/>
<rect x="246" y="113.1" width="9" height="5" fill="#000"/>
<rect x="246" y="101.9" width="9" height="5" fill="#000"/>
<rect x="246" y="92.8" width="9" height="5" fill="#000"/>
<rect x="246" y="85.0" width="9" height="5" fill="#000"/>
<rect x="246" y="78.3" width="9" height="5" fill="#000"/>
<rect x="246" y="72.4" width="9" height="5" fill="#000"/>
<rect x="235" y="67.1" width="20" height="5" fill="#000"/>
<rect x="246" y="32.2" width="9" height="5" fill="#000"/>
<rect x="310.0" y="1113" width="5" height="20" fill="#000"/>
<rect x="421.8" y="1113" width="5" height="10" fill="#000"/>
<rect x="533.5" y="1113" width="5" height="20" fill="#000"/>
<rect x="645.2" y="1113" width="5" height="10" fill="#000"/>
<rect x="757.0" y="1113" width="5" height="20" fill="#000"/>
<rect x="868.8" y="1113" width="5" height="10" fill="#000"/>
<rect x="980.5" y="1113" width="5" height="20" fill="#000"/>
<rect x="1092.2" y="1113" width="5" height="10" fill="#000"/>
<rect x="1204.0" y="1113" width="5" height="20" fill="#000"/>
<rect x="1315.8" y="1113" width="5" height="10" fill="#000"/>
<rect x="1427.5" y="1113" width="5" height="20" fill="#000"/>
<rect x="1539.2" y="1113" width="5" height="10" fill="#000"/>
<rect x="1651.0" y="1113" width="5" height="20" fill="#000"/>
<rect x="394.1" y="24" width="5" height="10" fill="#000"/>
<rect x="533.8" y="24" width="5" height="21" fill="#000"/>
<rect x="673.5" y="24" width="5" height="10" fill="#000"/>
<rect x="813.1" y="24" width="5" height="21" fill="#000"/>
<rect x="952.8" y="24" width="5" height="10" fill="#000"/>
<rect x="1092.4" y="24" width="5" height="21" fill="#000"/>
<rect x="1232.1" y="24" width="5" height="10" fill="#000"/>
<rect x="1371.7" y="24" width="5" height="21" fill="#000"/>
<rect x="1511.4" y="24" width="5" height="10" fill="#000"/>
<rect x="1642" y="1000.1" width="10" height="5" fill="#000"/>
<rect x="1631" y="891.2" width="21" height="5" fill="#000"/>
<rect x="1642" y="782.4" width="10" height="5" fill="#000"/>
<rect x="1631" y="673.5" width="21" height="5" fill="#000"/>
<rect x="1642" y="564.6" width="10" height="5" fill="#000"/>
<rect x="1631" y="455.8" width="21" height="5" fill="#000"/>
<rect x="1642" y="346.9" width="10" height="5" fill="#000"/>
<rect x="1631" y="238.0" width="21" height="5" fill="#000"/>
<rect x="1642" y="129.1" width="10" height="5" fill="#000"/>
</g>
<text transform="translate(220.00,1108.70) scale(1,1.030)" font-size="42.00" text-anchor="end">2</text>
<text transform="translate(169.95,1108.70) scale(1,1.030)" font-size="42.00" text-anchor="start">−</text>
<text transform="translate(171.12,1134.60) scale(1,1.025)" font-size="63.00" text-anchor="end">10</text>
<text transform="translate(220.00,992.93) scale(1,1.030)" font-size="42.00" text-anchor="end">1</text>
<text transform="translate(169.95,992.93) scale(1,1.030)" font-size="42.00" text-anchor="start">−</text>
<text transform="translate(171.12,1018.73) scale(1,1.025)" font-size="63.00" text-anchor="end">10</text>
<text transform="translate(220.00,877.16) scale(1,1.030)" font-size="42.00" text-anchor="end">0</text>
<text transform="translate(195.65,902.86) scale(1,1.025)" font-size="63.00" text-anchor="end">10</text>
<text transform="translate(220.00,761.39) scale(1,1.030)" font-size="42.00" text-anchor="end">1</text>
<text transform="translate(195.65,786.99) scale(1,1.025)" font-size="63.00" text-anchor="end">10</text>
<text transform="translate(220.00,645.62) scale(1,1.030)" font-size="42.00" text-anchor="end">2</text>
<text transform="translate(195.65,671.12) scale(1,1.025)" font-size="63.00" text-anchor="end">10</text>
<text transform="translate(220.00,529.85) scale(1,1.030)" font-size="42.00" text-anchor="end">3</text>
<text transform="translate(195.65,555.25) scale(1,1.025)" font-size="63.00" text-anchor="end">10</text>
<text transform="translate(220.00,414.08) scale(1,1.030)" font-size="42.00" text-anchor="end">4</text>
<text transform="translate(195.65,439.38) scale(1,1.025)" font-size="63.00" text-anchor="end">10</text>
<text transform="translate(220.00,298.31) scale(1,1.030)" font-size="42.00" text-anchor="end">5</text>
<text transform="translate(195.65,323.51) scale(1,1.025)" font-size="63.00" text-anchor="end">10</text>
<text transform="translate(220.00,182.54) scale(1,1.030)" font-size="42.00" text-anchor="end">6</text>
<text transform="translate(195.65,207.64) scale(1,1.025)" font-size="63.00" text-anchor="end">10</text>
<text transform="translate(220.00,66.77) scale(1,1.030)" font-size="42.00" text-anchor="end">7</text>
<text transform="translate(195.65,91.77) scale(1,1.025)" font-size="63.00" text-anchor="end">10</text>
<text transform="translate(313.00,1196.50) scale(1,1.030)" font-size="64.00" text-anchor="middle">0.00</text>
<text transform="translate(536.50,1196.50) scale(1,1.030)" font-size="64.00" text-anchor="middle">0.01</text>
<text transform="translate(760.00,1196.50) scale(1,1.030)" font-size="64.00" text-anchor="middle">0.02</text>
<text transform="translate(983.50,1196.50) scale(1,1.030)" font-size="64.00" text-anchor="middle">0.03</text>
<text transform="translate(1207.00,1196.50) scale(1,1.030)" font-size="64.00" text-anchor="middle">0.04</text>
<text transform="translate(1430.50,1196.50) scale(1,1.030)" font-size="64.00" text-anchor="middle">0.05</text>
<text transform="translate(1654.00,1196.50) scale(1,1.030)" font-size="64.00" text-anchor="middle">0.06</text>
<text transform="translate(955.90,1294.00) scale(1,1.050)" font-size="58.40" text-anchor="middle" font-weight="bold">Strain</text>
<text transform="translate(74.00,567.30) rotate(-90) scale(1,1.050)" font-size="61.60" text-anchor="middle" font-weight="bold">Gauge Factor (GF)</text>
<rect x="393.5" y="81.5" width="475" height="287" fill="#fff" stroke="#000" stroke-width="3"/>
<line x1="401" y1="120.4" x2="532.5" y2="120.4" stroke="#ff0000" stroke-width="7" stroke-linecap="round"/>
<rect x="457.5" y="110.9" width="20" height="20" fill="#ff0000"/>
<text transform="translate(548.35,140.20) scale(1,1.027)" font-size="58.70" text-anchor="start">4 wt.% CNT</text>
<line x1="401" y1="190.0" x2="532.5" y2="190.0" stroke="#00ff00" stroke-width="7" stroke-linecap="round"/>
<circle cx="466.6" cy="190.0" r="10.7" fill="#00ff00"/>
<text transform="translate(548.35,209.80) scale(1,1.027)" font-size="58.70" text-anchor="start">5 wt.% CNT</text>
<line x1="401" y1="259.6" x2="532.5" y2="259.6" stroke="#0000ff" stroke-width="7" stroke-linecap="round"/>
<polygon points="466.8,244.3 480.1,267.3 453.5,267.3" fill="#0000ff"/>
<text transform="translate(548.35,279.40) scale(1,1.027)" font-size="58.70" text-anchor="start">6 wt.% CNT</text>
<line x1="401" y1="329.2" x2="532.5" y2="329.2" stroke="#ff8000" stroke-width="7" stroke-linecap="round"/>
<polygon points="453.5,321.9 480.1,321.9 466.8,343.9" fill="#ec832c"/>
<text transform="translate(548.35,349.00) scale(1,1.027)" font-size="58.70" text-anchor="start">7 wt.% CNT</text>
</svg></body></html>
